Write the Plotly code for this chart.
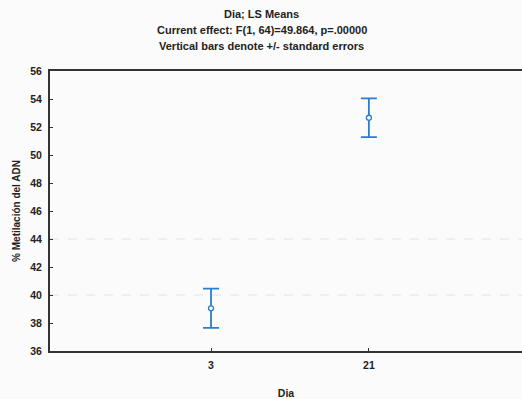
import plotly.graph_objects as go

# LS means of DNA methylation by day, with standard errors
dias = ["3", "21"]
medias = [39.05, 52.66]
errores_std = [1.40, 1.38]

y_ticks = [36, 38, 40, 42, 44, 46, 48, 50, 52, 54, 56]
lineas_ref = [44, 40]

titulos = [
    "Dia; LS Means",
    "Current effect: F(1, 64)=49.864, p=.00000",
    "Vertical bars denote +/- standard errors",
]
titulos_y = [1.203, 1.148, 1.091]

azul = "#2b7dd0"
fuente = "Liberation Sans, Arial, sans-serif"
tinta = "#222"

fig = go.Figure()
fig.add_trace(go.Scatter(
    x=dias,
    y=medias,
    mode="markers",
    marker=dict(symbol="circle", size=5, color="white",
                line=dict(width=1.3, color=azul)),
    error_y=dict(type="data", array=errores_std, visible=True,
                 color=azul, thickness=1.8, width=8),
    showlegend=False,
))

for v in lineas_ref:
    fig.add_shape(type="line", xref="paper", yref="y", x0=0, x1=1, y0=v, y1=v,
                  line=dict(color="#e2e2e2", width=1, dash="dash"), layer="below")

for texto, yy in zip(titulos, titulos_y):
    fig.add_annotation(text=f"<b>{texto}</b>", xref="paper", yref="paper",
                       x=0.449, y=yy, xanchor="center", yanchor="middle",
                       showarrow=False,
                       font=dict(family=fuente, size=11, color=tinta))

fig.update_layout(
    width=522, height=399,
    margin=dict(l=50, r=0, t=71, b=48),
    paper_bgcolor="#fbfbfb",
    plot_bgcolor="#fbfbfb",
    font=dict(family=fuente, size=10, color=tinta),
)

fig.update_xaxes(
    type="category",
    range=[-1.02, 1.97],
    tickvals=dias,
    ticktext=[f"<b>{d}</b>" for d in dias],
    showline=True, linecolor="#333", linewidth=2, mirror=True,
    ticks="inside", ticklen=3, tickcolor="#333",
    ticklabelstandoff=3,
    showgrid=False, zeroline=False,
    tickfont=dict(family=fuente, size=10.5, color=tinta),
    title=dict(text="<b>Dia</b>", standoff=20,
               font=dict(family=fuente, size=10.5, color=tinta)),
)
fig.update_yaxes(
    range=[36, 56],
    tickvals=y_ticks,
    ticktext=[f"<b>{v}</b>" for v in y_ticks],
    showline=True, linecolor="#333", linewidth=2, mirror=False,
    ticks="inside", ticklen=3, tickcolor="#333",
    ticklabelstandoff=4,
    showgrid=False, zeroline=False,
    tickfont=dict(family=fuente, size=10.5, color=tinta),
    title=dict(text="<b>% Metilación del ADN</b>", standoff=8,
               font=dict(family=fuente, size=10, color=tinta)),
)

fig.write_html("out.html")
